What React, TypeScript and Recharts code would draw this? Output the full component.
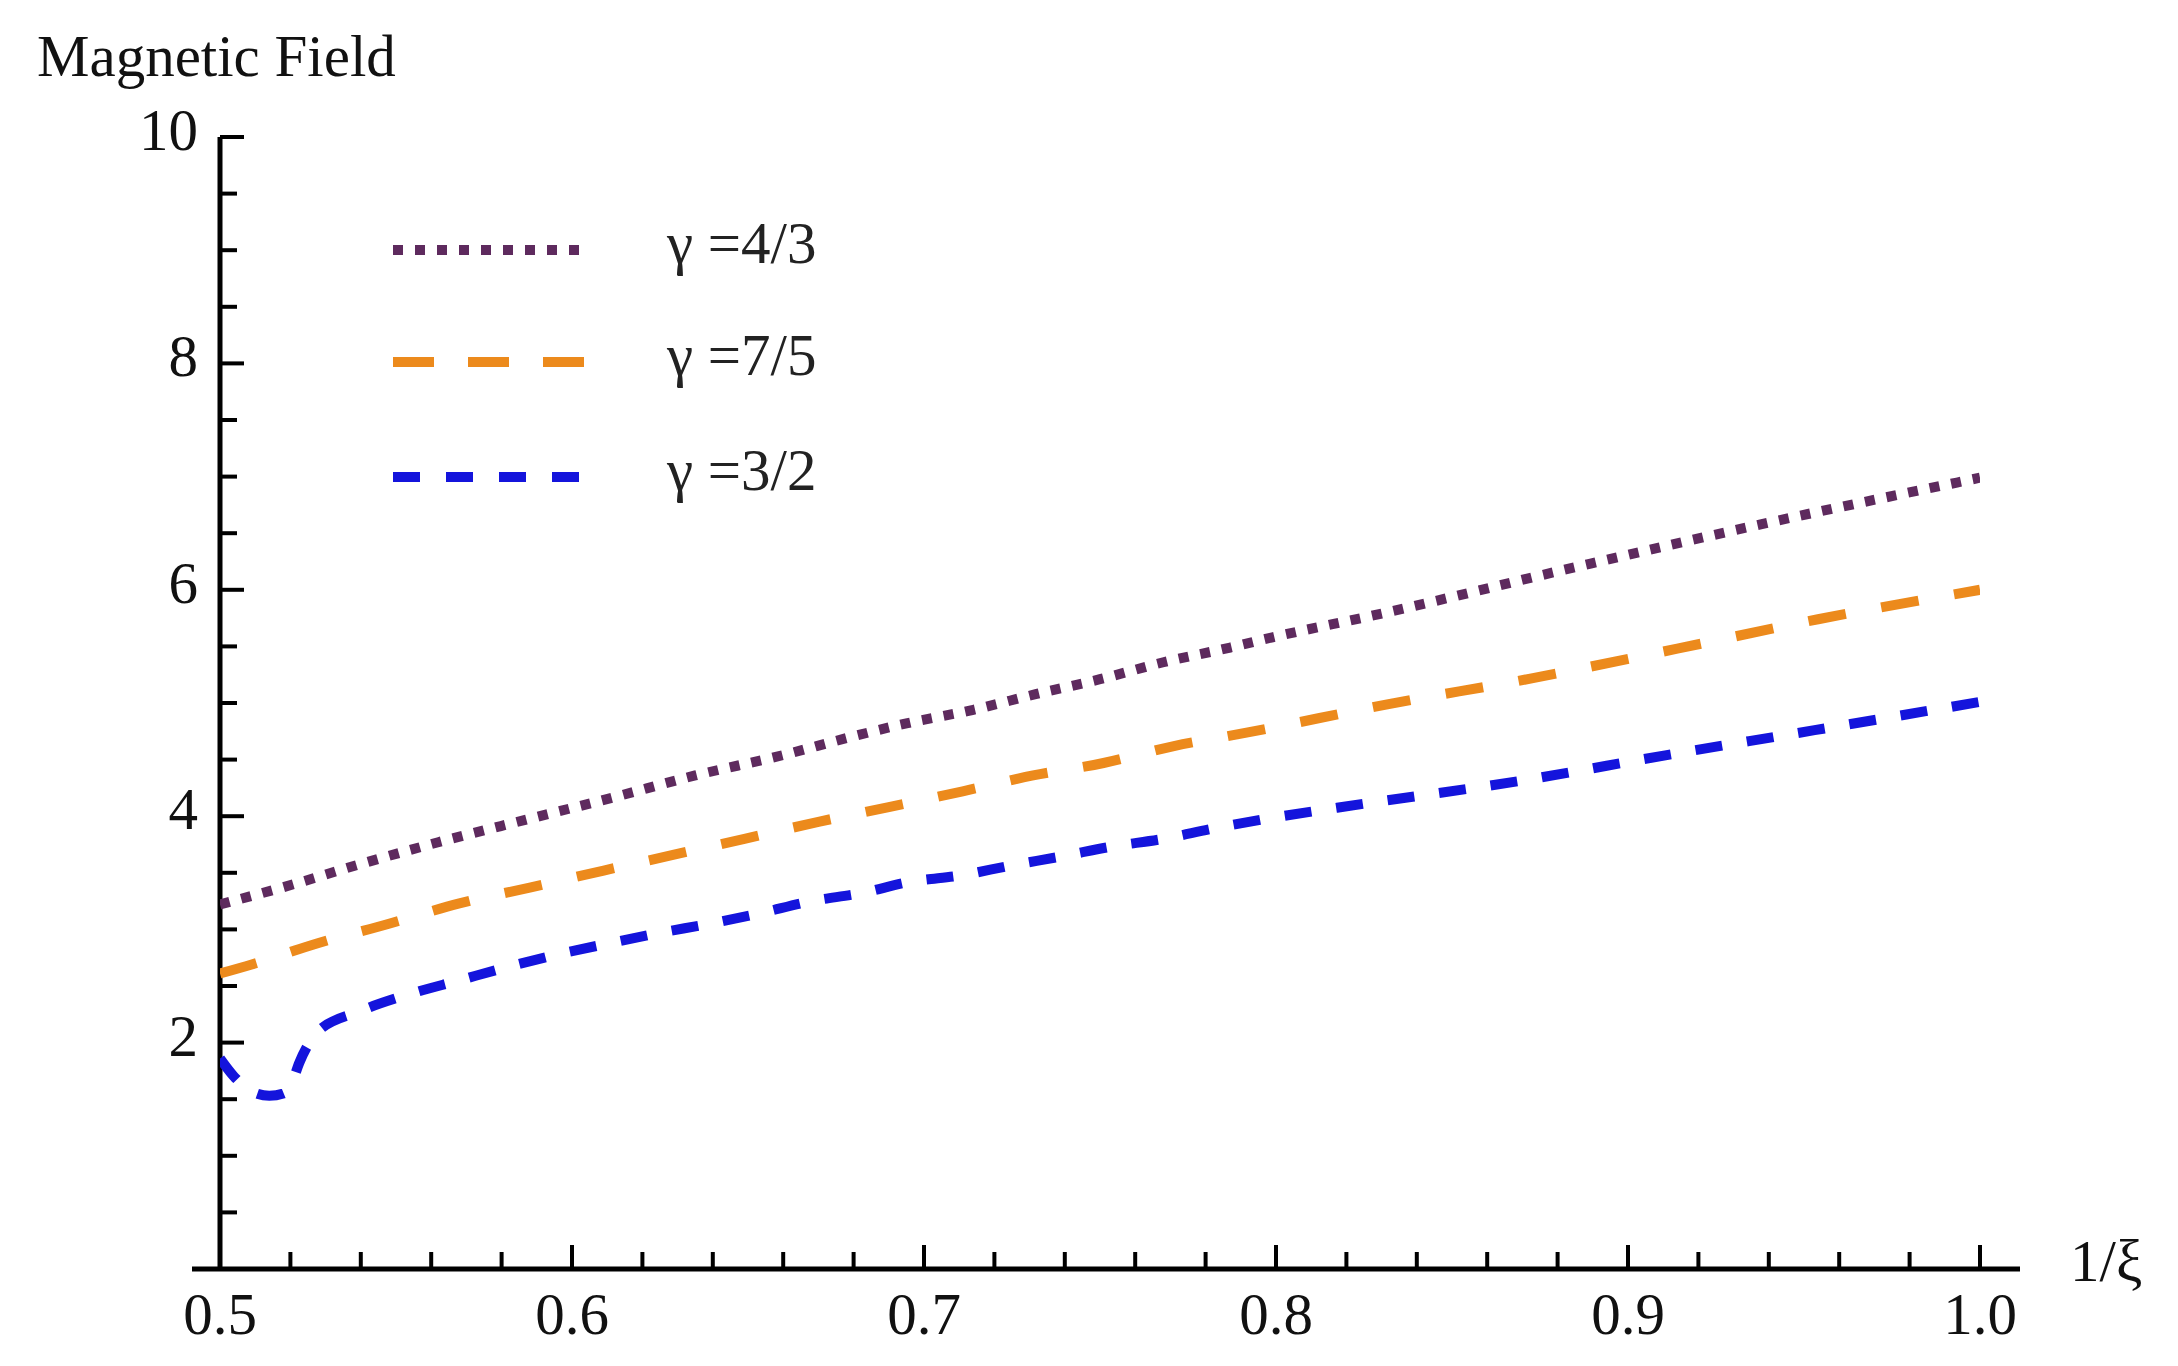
import React from "react";
import { LineChart, Line, XAxis, YAxis, ReferenceLine, Legend, Label } from "recharts";

// ---- data ----
const G43_X = [0.5, 0.521, 0.538, 0.562, 0.587, 0.611, 0.635, 0.66, 0.678, 0.695, 0.714, 0.732, 0.75, 0.768, 0.787, 0.799, 0.83, 0.885, 0.938, 1.0];
const G43_Y = [3.22, 3.4, 3.56, 3.77, 3.97, 4.16, 4.36, 4.54, 4.69, 4.82, 4.94, 5.08, 5.21, 5.36, 5.49, 5.58, 5.79, 6.2, 6.58, 6.99];

const G75_X = [0.5, 0.509, 0.528, 0.548, 0.568, 0.588, 0.609, 0.629, 0.649, 0.67, 0.69, 0.711, 0.731, 0.751, 0.771, 0.792, 0.832, 0.873, 0.914, 0.954, 1.0];
const G75_Y = [2.61, 2.69, 2.88, 3.05, 3.23, 3.37, 3.52, 3.66, 3.8, 3.95, 4.08, 4.22, 4.36, 4.47, 4.62, 4.74, 4.99, 5.22, 5.48, 5.74, 6.0];

const G32_X = [0.5, 0.504, 0.509, 0.514, 0.518, 0.5205, 0.5225, 0.525, 0.5275, 0.54, 0.554, 0.568, 0.582, 0.596, 0.611, 0.625, 0.639, 0.653, 0.668, 0.682, 0.696, 0.711, 0.724, 0.74, 0.753, 0.768, 0.782, 0.796, 0.825, 0.869, 0.911, 0.953, 1.0];
const G32_Y = [1.86, 1.7, 1.57, 1.53, 1.55, 1.65, 1.82, 1.98, 2.09, 2.28, 2.43, 2.55, 2.67, 2.78, 2.88, 2.97, 3.05, 3.14, 3.25, 3.32, 3.42, 3.48, 3.56, 3.65, 3.73, 3.8, 3.89, 3.97, 4.11, 4.31, 4.54, 4.76, 5.01];

const SERIES_NAMES = ["γ =4/3", "γ =7/5", "γ =3/2"];
const SERIES_COLORS = ["#5e2a5e", "#ec8a1c", "#1414dc"];
const SERIES_DASH = ["10 12", "38 36", "27 25"];
const LEGEND_DASH = ["10 12", "41 34", "27 26"];

const X_TICKS = [0.5, 0.52, 0.54, 0.56, 0.58, 0.6, 0.62, 0.64, 0.66, 0.68, 0.7, 0.72, 0.74, 0.76, 0.78, 0.8, 0.82, 0.84, 0.86, 0.88, 0.9, 0.92, 0.94, 0.96, 0.98, 1.0];
const X_MAJOR = [0.5, 0.6, 0.7, 0.8, 0.9, 1.0];
const X_LABELS = ["0.5", "0.6", "0.7", "0.8", "0.9", "1.0"];
const Y_TICKS = [0, 0.5, 1, 1.5, 2, 2.5, 3, 3.5, 4, 4.5, 5, 5.5, 6, 6.5, 7, 7.5, 8, 8.5, 9, 9.5, 10];
const Y_MAJOR = [2, 4, 6, 8, 10];
const Y_LABELS = ["2", "4", "6", "8", "10"];

const zip = (xs: number[], ys: number[]) => xs.map((x, i) => ({ x, y: ys[i] }));
const SERIES = [zip(G43_X, G43_Y), zip(G75_X, G75_Y), zip(G32_X, G32_Y)];

// ---- style / layout ----
const FONT = "'Liberation Serif', 'Times New Roman', serif";
const FS = 59;
const W = 2178;
const H = 1366;
const X_PAD_LEFT = 28;
const X_PAD_RIGHT = 40;
const MAJOR_LEN = 24;
const MINOR_LEN = 17;

const findLabel = (v: number, majors: number[], labels: string[]) => {
  const i = majors.findIndex((m) => Math.abs(m - v) < 1e-9);
  return i >= 0 ? labels[i] : null;
};

const XTick = (props: any) => {
  const { x, y, payload } = props;
  const lab = findLabel(payload.value, X_MAJOR, X_LABELS);
  const len = lab ? MAJOR_LEN : MINOR_LEN;
  return (
    <g>
      <line x1={x} x2={x} y1={y} y2={y - len} stroke="#000" strokeWidth={4} />
      {lab && (
        <text x={x} y={y + 65} textAnchor="middle" fontFamily={FONT} fontSize={FS} fill="#111">
          {lab}
        </text>
      )}
    </g>
  );
};

const YTick = (props: any) => {
  const { x, y, payload } = props;
  if (payload.value === 0) return <g />;
  const ax = x + X_PAD_LEFT;
  const lab = findLabel(payload.value, Y_MAJOR, Y_LABELS);
  const len = lab ? MAJOR_LEN : MINOR_LEN;
  return (
    <g>
      <line x1={ax} x2={ax + len} y1={y} y2={y} stroke="#000" strokeWidth={4} />
      {lab && (
        <text x={ax - 22} y={y + 13} textAnchor="end" fontFamily={FONT} fontSize={FS} fill="#111">
          {lab}
        </text>
      )}
    </g>
  );
};

const LegendBox = () => (
  <svg width={470} height={330} style={{ display: "block" }}>
    {SERIES_NAMES.map((name, i) => {
      const cy = [60, 172, 287][i];
      return (
        <g key={name}>
          <line
            x1={13}
            x2={205}
            y1={cy}
            y2={cy}
            stroke={SERIES_COLORS[i]}
            strokeWidth={10}
            strokeDasharray={LEGEND_DASH[i]}
          />
          <text x={287} y={cy + 13} fontFamily={FONT} fontSize={FS} fill="#222">
            {name}
          </text>
        </g>
      );
    })}
  </svg>
);

export default function App() {
  return (
    <div style={{ position: "absolute", left: 0, top: 0, width: W, height: H, background: "#fff" }}>
      <LineChart width={W} height={H} margin={{ top: 137, right: 158, bottom: 0, left: 92 }}>
        <XAxis
          dataKey="x"
          type="number"
          domain={[0.5, 1.0]}
          ticks={X_TICKS}
          interval={0}
          padding={{ left: X_PAD_LEFT, right: X_PAD_RIGHT }}
          height={97}
          tickLine={false}
          tickSize={0}
          tickMargin={0}
          axisLine={{ stroke: "#000", strokeWidth: 5 }}
          tick={<XTick />}
          allowDataOverflow
        >
          <Label
            content={() => (
              <text x={2070} y={1281} fontFamily={FONT} fontSize={FS} fill="#111">
                1/ξ
              </text>
            )}
          />
        </XAxis>
        <YAxis
          type="number"
          domain={[0, 10]}
          ticks={Y_TICKS}
          interval={0}
          width={100}
          tickLine={false}
          tickSize={0}
          tickMargin={0}
          axisLine={false}
          tick={<YTick />}
          allowDataOverflow
        >
          <Label
            content={() => (
              <text x={37} y={76} fontFamily={FONT} fontSize={FS} fill="#111">
                Magnetic Field
              </text>
            )}
          />
        </YAxis>
        <ReferenceLine x={0.5} stroke="#000" strokeWidth={5} />
        {SERIES.map((d, i) => (
          <Line
            key={SERIES_NAMES[i]}
            data={d}
            dataKey="y"
            name={SERIES_NAMES[i]}
            type="monotone"
            stroke={SERIES_COLORS[i]}
            strokeWidth={10}
            strokeDasharray={SERIES_DASH[i]}
            dot={false}
            activeDot={false}
            isAnimationActive={false}
          />
        ))}
        <Legend
          layout="vertical"
          align="center"
          verticalAlign="middle"
          content={<LegendBox />}
          wrapperStyle={{ position: "absolute", left: 380, top: 190, width: 470, height: 330 }}
        />
      </LineChart>
    </div>
  );
}
